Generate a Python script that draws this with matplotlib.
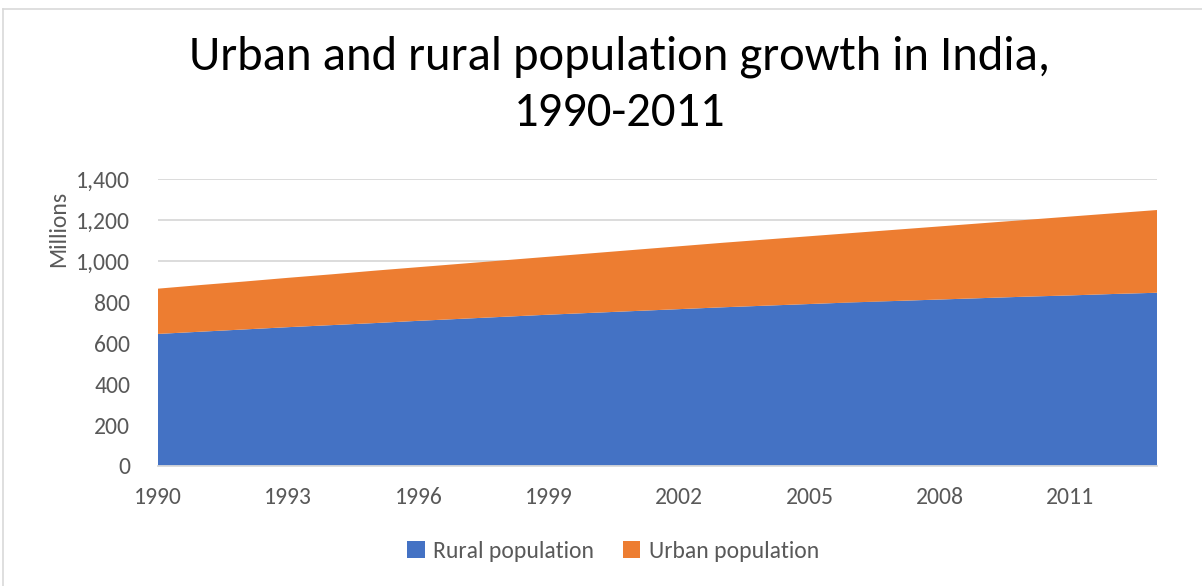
import matplotlib
matplotlib.use("Agg")
import matplotlib.pyplot as plt
from matplotlib.patches import Patch
from matplotlib.lines import Line2D
from matplotlib.ticker import FuncFormatter, MultipleLocator

years = list(range(1990, 2014))
rural = [645, 656, 667, 678, 688, 698, 709, 719, 729, 739, 748, 757,
         766, 775, 783, 791, 799, 806, 813, 820, 827, 833, 840, 846]
urban = [221, 228, 234, 241, 248, 256, 262, 269, 276, 283, 291, 299,
         307, 315, 323, 331, 339, 348, 357, 366, 375, 385, 394, 404]
series_names = ["Rural population", "Urban population"]
colors = ["#4472C4", "#ED7D31"]
title = "Urban and rural population growth in India,\n1990-2011"

FONT = ["Carlito", "Lato", "DejaVu Sans"]
plt.rcParams["font.family"] = FONT
GRAY = "#595959"

W, H = 1202, 586
fig = plt.figure(figsize=(W / 100, H / 100), dpi=100)
ax = fig.add_axes([158 / W, 1 - 466 / H, (1157 - 158) / W, (466 - 179.3) / H])

ax.stackplot(years, rural, urban, colors=colors, linewidth=0, zorder=2)
ax.set_xlim(years[0], years[-1])
ax.set_ylim(0, 1400)
ax.yaxis.set_major_locator(MultipleLocator(200))
ax.yaxis.set_major_formatter(FuncFormatter(lambda v, p: f"{int(v):,}"))
ax.set_xticks(years[::3])
ax.set_xticklabels([str(y) for y in years[::3]])
ax.grid(axis="y", color="#D9D9D9", linewidth=1.3, zorder=0)
ax.set_axisbelow(True)
for s in ["top", "right", "left"]:
    ax.spines[s].set_visible(False)
ax.spines["bottom"].set_color("#D9D9D9")
ax.spines["bottom"].set_linewidth(1.3)
ax.tick_params(axis="both", length=0, labelsize=17, colors=GRAY)
ax.tick_params(axis="x", pad=15)
ax.tick_params(axis="y", pad=20)
ax.set_ylabel("Millions", fontsize=17, color=GRAY)
ax.yaxis.set_label_coords(-(158 - 69) / (1157 - 158), (466 - 229) / (466 - 179.3))

fig.text(620 / W, 1 - 35 / H, title, ha="center", va="top", fontsize=35,
         color="black", linespacing=1.42)

handles = [Patch(facecolor=c, edgecolor="none") for c in colors]
fig.legend(handles, series_names, loc="center", bbox_to_anchor=(613 / W, 1 - 551 / H),
           ncol=2, frameon=False, fontsize=17, labelcolor=GRAY,
           handlelength=0.75, handleheight=0.75, handletextpad=0.35, columnspacing=1.2)

fig.add_artist(Line2D([3 / W, 3 / W], [0, 1 - 9 / H], transform=fig.transFigure,
                      color="#D9D9D9", linewidth=1.2))
fig.add_artist(Line2D([3 / W, 1], [1 - 9 / H, 1 - 9 / H], transform=fig.transFigure,
                      color="#D9D9D9", linewidth=1.2))

fig.savefig("out.png", dpi=100)
